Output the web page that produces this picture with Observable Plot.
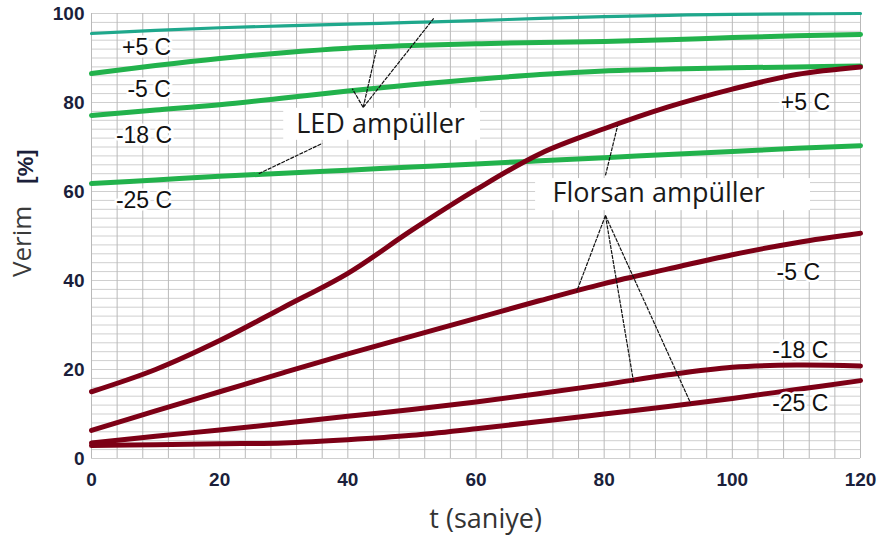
<!DOCTYPE html>
<html><head><meta charset="utf-8">
<script src="https://cdn.jsdelivr.net/npm/d3@7"></script>
<script src="https://cdn.jsdelivr.net/npm/@observablehq/plot@0.6"></script>
<style>body{margin:0;background:#fff} #chart{width:878px;height:539px}</style>
</head><body><div id="chart"></div>
<script>
// time (s)
const times = [0, 10, 20, 30, 40, 50, 60, 70, 80, 90, 100, 110, 120];
// LED bulbs efficiency (%)
const ledP5  = [95.5, 96.2, 96.8, 97.2, 97.6, 98.0, 98.4, 98.9, 99.3, 99.6, 99.8, 99.9, 100];
const ledM5  = [86.5, 88.3, 89.9, 91.2, 92.2, 92.8, 93.2, 93.5, 93.7, 94.1, 94.6, 95.0, 95.3];
const ledM18 = [77.1, 78.3, 79.5, 81.0, 82.6, 84.0, 85.2, 86.3, 87.1, 87.5, 87.8, 88.0, 88.2];
const ledM25 = [61.8, 62.6, 63.4, 64.1, 64.8, 65.5, 66.2, 66.9, 67.6, 68.3, 69.0, 69.7, 70.3];
// Fluorescent bulbs efficiency (%)
const fluP5  = [15.0, 20.0, 26.5, 34.0, 41.6, 51.3, 60.4, 68.5, 74.1, 79.0, 83.0, 86.3, 88.0];
const fluM5  = [6.3, 10.7, 15.0, 19.3, 23.5, 27.5, 31.5, 35.5, 39.3, 42.6, 45.8, 48.5, 50.6];
const fluM18 = [3.5, 5.0, 6.4, 7.9, 9.5, 11.0, 12.7, 14.6, 16.6, 18.8, 20.5, 21.0, 20.8];
const fluM25 = [2.9, 3.1, 3.3, 3.5, 4.2, 5.2, 6.7, 8.3, 10.0, 11.7, 13.5, 15.5, 17.5];

const xTicks = [0, 20, 40, 60, 80, 100, 120];
const yTicks = [0, 20, 40, 60, 80, 100];
const xGrid = d3.range(0, 121, 4);
const yGrid = d3.range(0, 101, 2);

// series labels (t, value position)
const ledLabels = [
  {t: 8.6, v: 92.4, text: "+5 C"},
  {t: 9.0, v: 82.9, text: "-5 C"},
  {t: 8.2, v: 72.6, text: "-18 C"},
  {t: 8.2, v: 58.0, text: "-25 C"}
];
const fluLabels = [
  {t: 111.4, v: 80.0, text: "+5 C"},
  {t: 110.3, v: 41.8, text: "-5 C"},
  {t: 110.6, v: 24.3, text: "-18 C"},
  {t: 110.6, v: 12.4, text: "-25 C"}
];
const groupLabels = [
  {t: 45.1, v: 75.2, text: "LED ampüller"},
  {t: 88.5, v: 59.5, text: "Florsan ampüller"}
];
const groupBoxes = [
  {t1: 30.0, t2: 60.7, v1: 71.5, v2: 78.7},
  {t1: 69.3, t2: 112.2, v1: 55.7, v2: 62.9}
];
const leaders = [
  {t1: 42.4, v1: 78.9, t2: 53.4, v2: 98.9},
  {t1: 42.4, v1: 78.9, t2: 44.5, v2: 92.1},
  {t1: 42.4, v1: 78.9, t2: 40.7, v2: 83.1},
  {t1: 26.1, v1: 64.0, t2: 36.0, v2: 70.8},
  {t1: 80.2, v1: 54.6, t2: 75.7, v2: 37.5},
  {t1: 80.2, v1: 54.6, t2: 84.6, v2: 17.1},
  {t1: 80.2, v1: 54.6, t2: 93.5, v2: 12.4},
  {t1: 80.2, v1: 63.6, t2: 82.1, v2: 74.8}
];
// axis titles, placed in chart units
const yTitleWord = [{t: -10.7, v: 48.8, text: "Verim"}];
const yTitleUnit = [{t: -10.2, v: 65.6, text: "[%]"}];
const xTitle = [{t: 61.5, v: -13.6, text: "t (saniye)"}];

const toRows = (key, vals) => vals.map((v, i) => ({key, t: times[i], v}));
const tealRows = toRows("LED +5", ledP5);
const greenRows = [...toRows("LED -5", ledM5), ...toRows("LED -18", ledM18), ...toRows("LED -25", ledM25)];
const redRows = [...toRows("F +5", fluP5), ...toRows("F -5", fluM5), ...toRows("F -18", fluM18), ...toRows("F -25", fluM25)];

const tickColor = "#1b1f3b";
const plot = Plot.plot({
  width: 878, height: 539,
  marginLeft: 91, marginRight: 18, marginTop: 13, marginBottom: 81,
  x: {domain: [0, 120]},
  y: {domain: [0, 100]},
  style: {fontFamily: "'Liberation Sans', Arial, sans-serif", background: "white"},
  marks: [
    Plot.gridY(yGrid, {stroke: "#cfcfcf", strokeOpacity: 1, strokeWidth: 1}),
    Plot.gridX(xGrid, {stroke: "#b9b9b9", strokeOpacity: 1, strokeWidth: 1}),
    Plot.axisX(xTicks, {tickSize: 0, tickPadding: 14, fontSize: 19, fontWeight: "bold", color: tickColor, label: null}),
    Plot.axisY(yTicks, {tickSize: 0, tickPadding: 7, fontSize: 19, fontWeight: "bold", color: tickColor, label: null}),
    Plot.line(tealRows, {x: "t", y: "v", z: "key", stroke: "#1fa88c", strokeWidth: 3.2, curve: "catmull-rom"}),
    Plot.line(greenRows, {x: "t", y: "v", z: "key", stroke: "#22b24c", strokeWidth: 5, curve: "catmull-rom"}),
    Plot.line(redRows, {x: "t", y: "v", z: "key", stroke: "#7d0016", strokeWidth: 5, curve: "catmull-rom"}),
    Plot.link(leaders, {x1: "t1", y1: "v1", x2: "t2", y2: "v2", stroke: "#111", strokeWidth: 1.2, strokeDasharray: "4,1"}),
    Plot.rect(groupBoxes, {x1: "t1", x2: "t2", y1: "v1", y2: "v2", fill: "white"}),
    Plot.text(groupLabels, {x: "t", y: "v", text: "text", fontSize: 27, fontFamily: "'Open Sans', sans-serif", fill: "#1a1a1a"}),
    Plot.text([...ledLabels, ...fluLabels], {x: "t", y: "v", text: "text", fontSize: 23, fill: "#111", stroke: "white", strokeWidth: 5, paintOrder: "stroke"}),
    Plot.text(yTitleWord, {x: "t", y: "v", text: "text", rotate: -90, fontSize: 26, fill: "#3a3a3a", fontFamily: "'Open Sans', sans-serif"}),
    Plot.text(yTitleUnit, {x: "t", y: "v", text: "text", rotate: -90, fontSize: 22, fontWeight: "bold", fill: tickColor}),
    Plot.text(xTitle, {x: "t", y: "v", text: "text", fontSize: 27, fill: "#333", fontFamily: "'Open Sans', sans-serif"})
  ]
});
document.getElementById("chart").appendChild(plot);
</script>
</body></html>
